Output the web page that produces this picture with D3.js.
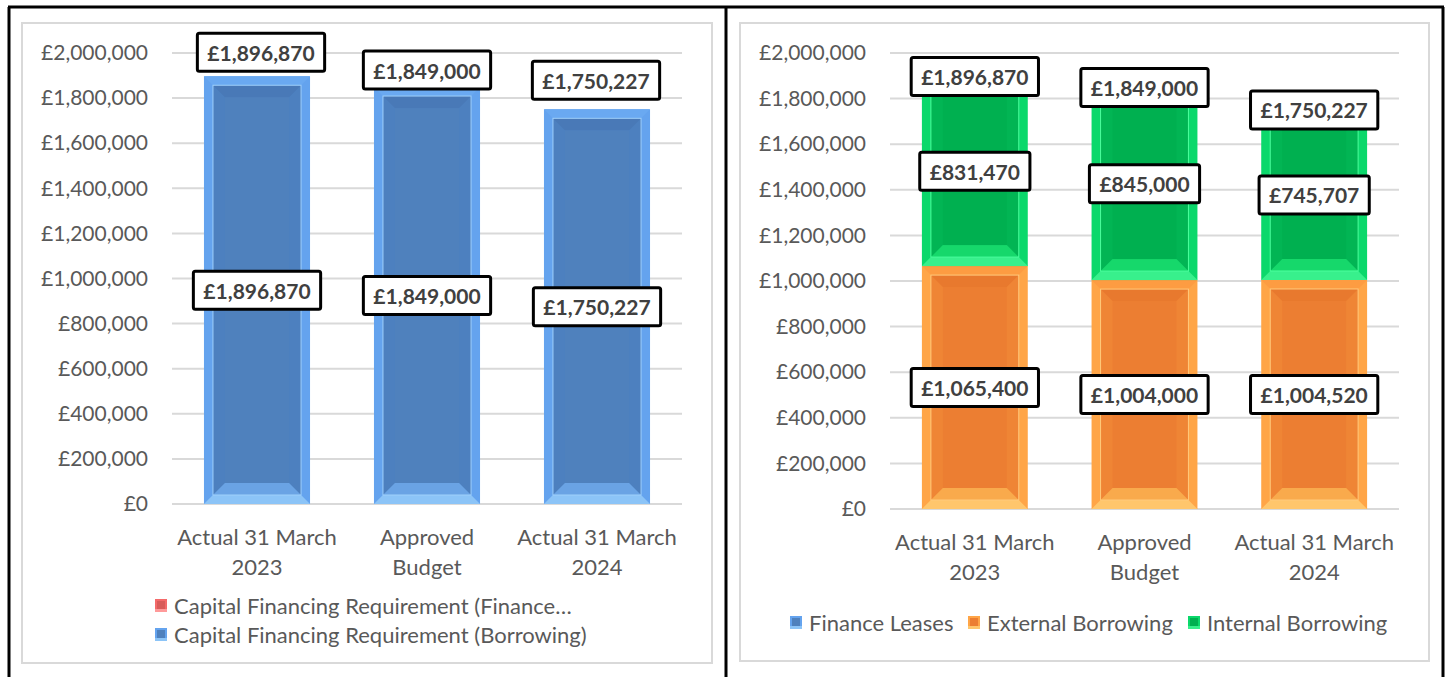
<!DOCTYPE html>
<html>
<head>
<meta charset="utf-8">
<script src="https://cdn.jsdelivr.net/npm/d3@7"></script>
<style>
  body { margin: 0; background: #fff; }
  text { font-family: Lato, "Open Sans", sans-serif; }
</style>
</head>
<body>
<script>
// Data
const categories = [["Actual 31 March", "2023"], ["Approved", "Budget"], ["Actual 31 March", "2024"]];
const cfrFinanceLeases = [0, 0, 0];
const cfrBorrowing = [1896870, 1849000, 1750227];
const financeLeases = [0, 0, 0];
const externalBorrowing = [1065400, 1004000, 1004520];
const internalBorrowing = [831470, 845000, 745707];
const yTicks = [0, 200000, 400000, 600000, 800000, 1000000, 1200000, 1400000, 1600000, 1800000, 2000000];
const leftLegend = ["Capital Financing Requirement (Finance\u2026", "Capital Financing Requirement (Borrowing)"];
const rightLegend = ["Finance Leases", "External Borrowing", "Internal Borrowing"];

// bevel colour sets (Excel "bevel" shape effect look-alike)
const blue = { top: "#6aa9f1", side: "#64a3ee", bottom: "#8cc4f7", line: "#9fd0fb", face: "#4f81bd", iTop: "#4979b7", iSide: "#4d80bf", iBottom: "#6aa3e4" };
const red = { top: "#ff7878", side: "#f46a6a", bottom: "#ff9a9a", line: "#ffb0b0", face: "#d85c5a", iTop: "#d05855", iSide: "#d85c5a", iBottom: "#f07a7a" };
const orange = { top: "#fd9c42", side: "#ffa547", bottom: "#ffc66c", line: "#ffca7c", face: "#ec7e32", iTop: "#e8792e", iSide: "#ef8535", iBottom: "#f9aa4c" };
const green = { top: "#06d066", side: "#0bd86b", bottom: "#38f08c", line: "#4dff9e", face: "#00b050", iTop: "#00aa4c", iSide: "#02b554", iBottom: "#16d86b" };

const fmt = v => "£" + d3.format(",")(v);

const svg = d3.select("body").append("svg")
    .attr("width", 1448)
    .attr("height", 677);

// table borders
const borders = [[8, 7, 1444, 7], [9, 7, 9, 677], [726, 7, 726, 677], [1443, 7, 1443, 677]];
borders.forEach(b => {
    svg.append("line")
       .attr("x1", b[0]).attr("y1", b[1]).attr("x2", b[2]).attr("y2", b[3])
       .attr("stroke", "#000").attr("stroke-width", 3);
});

function bevelBar(g, x, y, w, h, p) {
    const b1 = Math.min(9, h / 3), b2 = Math.min(12, (h - 2 * b1) / 3);
    const quad = (pts, fill) => g.append("polygon")
        .attr("points", pts.map(d => d.join(",")).join(" "))
        .attr("fill", fill);
    g.append("rect").attr("x", x).attr("y", y).attr("width", w).attr("height", h).attr("fill", p.side);
    quad([[x, y], [x + w, y], [x + w - b1, y + b1], [x + b1, y + b1]], p.top);
    quad([[x, y + h], [x + w, y + h], [x + w - b1, y + h - b1], [x + b1, y + h - b1]], p.bottom);
    // inner face with a softer second bevel
    const ix = x + b1, iy = y + b1, iw = w - 2 * b1, ih = h - 2 * b1;
    g.append("rect").attr("x", ix).attr("y", iy).attr("width", iw).attr("height", ih).attr("fill", p.iSide);
    quad([[ix, iy], [ix + iw, iy], [ix + iw - b2, iy + b2], [ix + b2, iy + b2]], p.iTop);
    quad([[ix, iy + ih], [ix + iw, iy + ih], [ix + iw - b2, iy + ih - b2], [ix + b2, iy + ih - b2]], p.iBottom);
    g.append("rect").attr("x", ix + b2).attr("y", iy + b2)
     .attr("width", Math.max(0, iw - 2 * b2)).attr("height", Math.max(0, ih - 2 * b2)).attr("fill", p.face);
    g.append("rect").attr("x", ix).attr("y", iy).attr("width", iw).attr("height", ih)
     .attr("fill", "none").attr("stroke", p.line).attr("stroke-width", 1);
}

function labelBox(g, cx, cy, value) {
    const lg = g.append("g");
    const rect = lg.append("rect");
    const t = lg.append("text")
        .attr("x", cx).attr("y", cy)
        .attr("text-anchor", "middle")
        .attr("dominant-baseline", "central")
        .attr("font-size", 21)
        .attr("font-weight", "bold")
        .attr("fill", "#404040")
        .text(fmt(value));
    const bb = t.node().getBBox();
    rect.attr("x", cx - bb.width / 2 - 10).attr("y", cy - 19)
        .attr("width", bb.width + 20).attr("height", 38)
        .attr("rx", 2)
        .attr("fill", "#fff").attr("stroke", "#000").attr("stroke-width", 3);
}

function bevelLegend(g, x, y, p) {
    g.append("rect").attr("x", x).attr("y", y).attr("width", 12).attr("height", 13).attr("fill", p.side);
    g.append("rect").attr("x", x + 2).attr("y", y + 2).attr("width", 8).attr("height", 9).attr("fill", p.face);
    g.append("rect").attr("x", x).attr("y", y + 10).attr("width", 12).attr("height", 3).attr("fill", p.bottom);
}

function drawChart(cfg) {
    const g = svg.append("g");

    // chart area frame
    g.append("rect")
     .attr("x", cfg.frame[0]).attr("y", cfg.frame[1])
     .attr("width", cfg.frame[2] - cfg.frame[0]).attr("height", cfg.frame[3] - cfg.frame[1])
     .attr("fill", "#fff").attr("stroke", "#d9d9d9").attr("stroke-width", 2);

    const x = d3.scaleBand()
        .domain(d3.range(categories.length))
        .range([cfg.left, cfg.right])
        .paddingInner(0.376).paddingOuter(0.188);

    const y = d3.scaleLinear()
        .domain([0, 2000000])
        .range([cfg.bottom, cfg.top]);

    // gridlines
    g.selectAll(".grid").data(yTicks).enter().append("line")
     .attr("x1", cfg.left).attr("x2", cfg.right)
     .attr("y1", d => y(d)).attr("y2", d => y(d))
     .attr("stroke", "#d9d9d9").attr("stroke-width", 2);

    // y axis labels
    const yAxis = g.append("g")
        .attr("transform", `translate(${cfg.left},0)`)
        .call(d3.axisLeft(y).tickValues(yTicks).tickFormat(fmt).tickSize(0).tickPadding(24));
    yAxis.select(".domain").remove();
    yAxis.selectAll("text").attr("font-size", 21).attr("fill", "#595959").style("font-family", "Lato");

    // x axis labels (two lines each)
    categories.forEach((lines, i) => {
        lines.forEach((ln, j) => {
            g.append("text")
             .attr("x", x(i) + x.bandwidth() / 2)
             .attr("y", cfg.bottom + 32 + j * 30)
             .attr("text-anchor", "middle")
             .attr("dominant-baseline", "central")
             .attr("font-size", 22).attr("fill", "#595959")
             .text(ln);
        });
    });

    // stacked bars
    const totals = categories.map(() => 0);
    cfg.series.forEach(s => {
        s.values.forEach((v, i) => {
            if (v <= 0) return;
            const y0 = y(totals[i]), y1 = y(totals[i] + v);
            bevelBar(g, x(i), y1, x.bandwidth(), y0 - y1, s.colors);
            totals[i] += v;
        });
    });

    // segment labels at the centre of each segment
    const acc = categories.map(() => 0);
    cfg.series.forEach(s => {
        s.values.forEach((v, i) => {
            if (v <= 0) { return; }
            labelBox(g, x(i) + x.bandwidth() / 2, y(acc[i] + v / 2), v);
            acc[i] += v;
        });
    });

    // total labels
    totals.forEach((t, i) => {
        labelBox(g, x(i) + x.bandwidth() / 2 + cfg.totalShiftX[i], y(t) + cfg.totalShiftY[i], t);
    });

    // legend
    cfg.legend.forEach(item => {
        bevelLegend(g, item.x, item.y - 6, item.colors);
        g.append("text")
         .attr("x", item.x + 19).attr("y", item.y)
         .attr("dominant-baseline", "central")
         .attr("font-size", 22).attr("fill", "#595959")
         .text(item.name);
    });
}

drawChart({
    frame: [22, 23, 712, 663],
    left: 172, right: 682, top: 53, bottom: 504,
    series: [
        { values: cfrBorrowing, colors: blue },
        { values: cfrFinanceLeases, colors: red }
    ],
    totalShiftX: [4, 0, -1],
    totalShiftY: [-24, -17, -29],
    legend: [
        { name: leftLegend[0], colors: red, x: 155, y: 605 },
        { name: leftLegend[1], colors: blue, x: 155, y: 634 }
    ]
});

drawChart({
    frame: [740, 23, 1429, 661],
    left: 890, right: 1399, top: 53, bottom: 509,
    series: [
        { values: financeLeases, colors: blue },
        { values: externalBorrowing, colors: orange },
        { values: internalBorrowing, colors: green }
    ],
    totalShiftX: [0, 0, 0],
    totalShiftY: [0, 0, 0],
    legend: [
        { name: rightLegend[0], colors: blue, x: 790, y: 622 },
        { name: rightLegend[1], colors: orange, x: 968, y: 622 },
        { name: rightLegend[2], colors: green, x: 1188, y: 622 }
    ]
});
</script>
</body>
</html>
